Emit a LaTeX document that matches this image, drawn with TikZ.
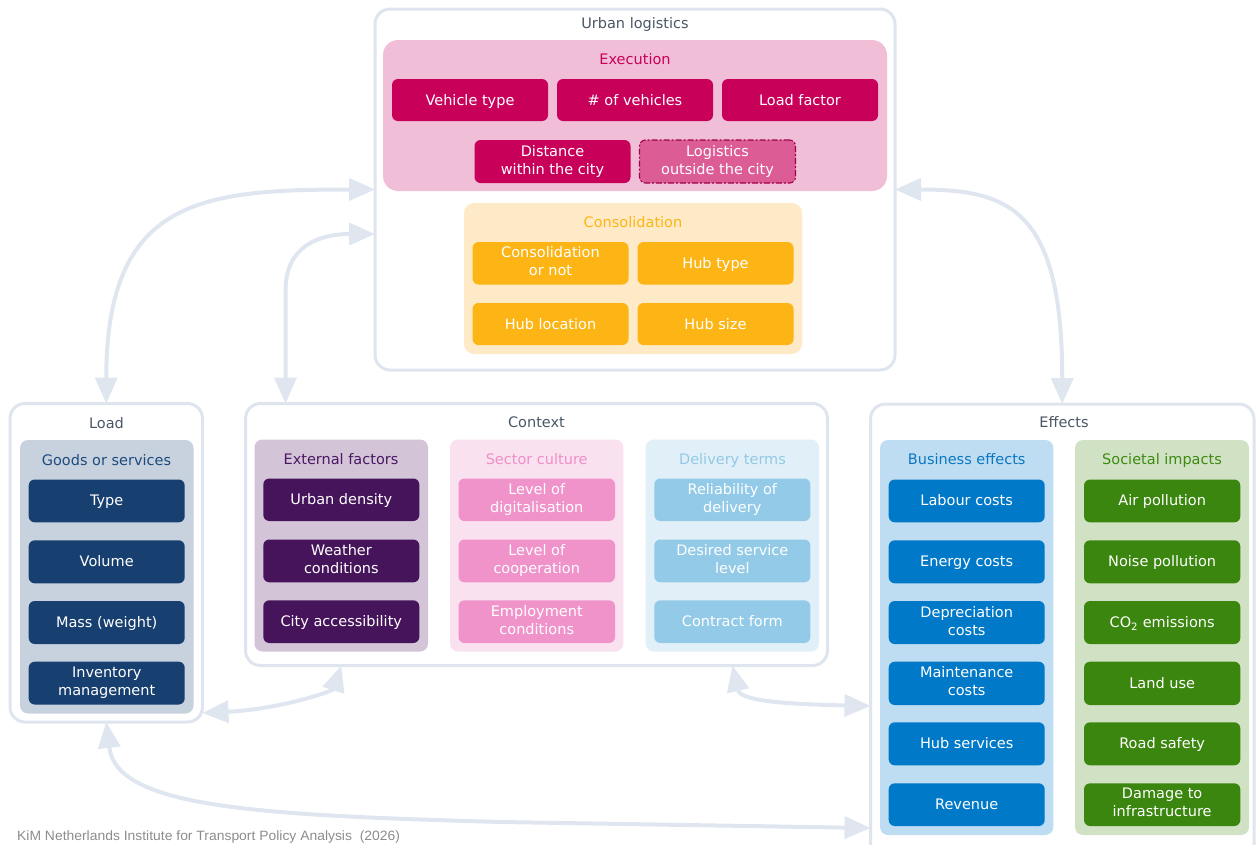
\documentclass[tikz,border=0pt]{standalone}
\usepackage{fontspec}
\setmainfont{DejaVu Sans}
\newfontfamily\footfont[FakeStretch=1.03]{Liberation Sans}
\usetikzlibrary{arrows.meta,calc}
\definecolor{bordc}{HTML}{DFE5EE}
\definecolor{arrc}{HTML}{DFE6EF}
\definecolor{ttlc}{HTML}{4B5766}
\definecolor{exbg}{HTML}{F0BED6}
\definecolor{exc}{HTML}{C8005A}
\definecolor{exd}{HTML}{DC5C96}
\definecolor{exdb}{HTML}{A0004A}
\definecolor{cobg}{HTML}{FFEAC8}
\definecolor{coc}{HTML}{FDB515}
\definecolor{ldbg}{HTML}{C8D2DF}
\definecolor{ldt}{HTML}{1D4A7C}
\definecolor{ldc}{HTML}{173F70}
\definecolor{efbg}{HTML}{D3C4D8}
\definecolor{eft}{HTML}{4A1862}
\definecolor{efc}{HTML}{46145A}
\definecolor{scbg}{HTML}{FAE1EF}
\definecolor{sct}{HTML}{F08FC8}
\definecolor{scc}{HTML}{F093CB}
\definecolor{dtbg}{HTML}{E1F0F8}
\definecolor{dtt}{HTML}{92C9E6}
\definecolor{dtc}{HTML}{93CAE7}
\definecolor{bebg}{HTML}{BFDDF2}
\definecolor{bet}{HTML}{0C77C1}
\definecolor{bec}{HTML}{0079C8}
\definecolor{sibg}{HTML}{D1E2C4}
\definecolor{sit}{HTML}{3D8A12}
\definecolor{sic}{HTML}{3B860F}
\definecolor{footc}{HTML}{8C8C8C}
\newcommand{\vs}{\rule[-4pt]{0pt}{18pt}}
\newcommand{\rbox}[7]{\node[#1, minimum width={(#5)-(#3)}, minimum height={(#6)-(#4)}] (#2) at ({((#3)+(#5))/2},{((#4)+(#6))/2}) {#7};}
\tikzset{tipA/.tip={Triangle[length=26pt,width=22pt]}}
\begin{document}
\begin{tikzpicture}[x=1pt,y=-1pt,
 base/.style={inner sep=0pt, outer sep=0pt, align=center, font=\fontsize{14.5}{18}\selectfont, execute at begin node=\vs, execute at end node=\vs},
 outerbox/.style={base, draw=bordc, line width=3pt, rounded corners=15pt, fill=white},
 grp/.style={base, rounded corners=10pt},
 btn/.style={base, rounded corners=6pt, text=white},
 ttl/.style={base},
 link/.style={draw=arrc, line width=4pt, tipA-tipA}]
\useasboundingbox (0,0) rectangle (1256,844);
\clip (0,0) rectangle (1256,844);
% ---------------- Urban logistics
\rbox{outerbox}{urban}{375}{9}{895}{370}{}
\node[ttl,text=ttlc] (urbant) at (635,23) {Urban logistics};
\rbox{grp,fill=exbg,rounded corners=15pt}{exec}{383}{40}{887}{191}{}
\node[ttl,text=exc] (exect) at (635,59) {Execution};
\rbox{btn,fill=exc}{vt}{392}{79}{548}{121}{Vehicle type}
\rbox{btn,fill=exc}{nv}{557}{79}{713}{121}{\# of vehicles}
\rbox{btn,fill=exc}{lf}{722}{79}{878}{121}{Load factor}
\rbox{btn,fill=exc}{dist}{474.5}{140}{630.5}{183}{Distance\\within the city}
\rbox{btn,fill=exd,draw=exdb,line width=1.1pt,dash pattern=on 6pt off 2pt on 2pt off 2pt}{outl}{639.5}{140}{795.5}{183}{Logistics\\outside the city}
\rbox{grp,fill=cobg}{cons}{464}{203}{802}{354}{}
\node[ttl,text=coc] (const) at (633,222) {Consolidation};
\rbox{btn,fill=coc}{cn}{472.5}{242}{628.5}{284.5}{Consolidation\\or not}
\rbox{btn,fill=coc}{ht}{637.5}{242}{793.5}{284.5}{Hub type}
\rbox{btn,fill=coc}{hl}{472.5}{303}{628.5}{345}{Hub location}
\rbox{btn,fill=coc}{hs}{637.5}{303}{793.5}{345}{Hub size}
% ---------------- Load
\rbox{outerbox}{load}{10}{403.5}{202.5}{722}{}
\node[ttl,text=ttlc] (loadt) at (106.5,423) {Load};
\rbox{grp,fill=ldbg,rounded corners=8pt}{goods}{20}{440}{193.5}{713.5}{}
\node[ttl,text=ldt] (goodst) at (106.5,460) {Goods or services};
\rbox{btn,fill=ldc}{ty}{28.7}{479.5}{184.7}{522.3}{Type}
\rbox{btn,fill=ldc}{vo}{28.7}{540.3}{184.7}{583.3}{Volume}
\rbox{btn,fill=ldc}{ma}{28.7}{601}{184.7}{644}{Mass (weight)}
\rbox{btn,fill=ldc}{inv}{28.7}{661.7}{184.7}{704.5}{Inventory\\management}
% ---------------- Context
\rbox{outerbox}{ctx}{245.5}{403.5}{827.5}{665.5}{}
\node[ttl,text=ttlc] (ctxt) at (536.5,422.5) {Context};
\rbox{grp,fill=efbg,rounded corners=8pt}{ext}{254.5}{439.5}{428}{651.5}{}
\node[ttl,text=eft] (extt) at (341,459) {External factors};
\rbox{btn,fill=efc}{ud}{263.3}{478.5}{419.3}{521}{Urban density}
\rbox{btn,fill=efc}{wc}{263.3}{539.5}{419.3}{582.3}{Weather\\conditions}
\rbox{btn,fill=efc}{ca}{263.3}{600.3}{419.3}{643}{City accessibility}
\rbox{grp,fill=scbg,rounded corners=8pt}{sec}{450}{439.5}{623.3}{651.5}{}
\node[ttl,text=sct] (sect) at (536.7,459) {Sector culture};
\rbox{btn,fill=scc}{ld}{458.5}{478.5}{615}{521}{Level of\\digitalisation}
\rbox{btn,fill=scc}{lc}{458.5}{539.5}{615}{582.3}{Level of\\cooperation}
\rbox{btn,fill=scc}{ec}{458.5}{600.3}{615}{643}{Employment\\conditions}
\rbox{grp,fill=dtbg,rounded corners=8pt}{del}{645.7}{439.5}{819}{651.5}{}
\node[ttl,text=dtt] (delt) at (732.5,459) {Delivery terms};
\rbox{btn,fill=dtc}{rd}{654.3}{478.5}{810.3}{521}{Reliability of\\delivery}
\rbox{btn,fill=dtc}{ds}{654.3}{539.5}{810.3}{582.3}{Desired service\\level}
\rbox{btn,fill=dtc}{cf}{654.3}{600.3}{810.3}{643}{Contract form}
% ---------------- Effects
\rbox{outerbox}{eff}{870.5}{404}{1254}{860}{}
\node[ttl,text=ttlc] (efft) at (1064,422.5) {Effects};
\rbox{grp,fill=bebg,rounded corners=8pt}{bus}{880}{440}{1053.3}{835}{}
\node[ttl,text=bet] (bust) at (966.7,459) {Business effects};
\rbox{btn,fill=bec}{lab}{888.7}{479.5}{1044.7}{522.3}{Labour costs}
\rbox{btn,fill=bec}{en}{888.7}{540.3}{1044.7}{583.3}{Energy costs}
\rbox{btn,fill=bec}{dep}{888.7}{601}{1044.7}{644}{Depreciation\\costs}
\rbox{btn,fill=bec}{mai}{888.7}{661.7}{1044.7}{705}{Maintenance\\costs}
\rbox{btn,fill=bec}{hsv}{888.7}{722.3}{1044.7}{765.3}{Hub services}
\rbox{btn,fill=bec}{rev}{888.7}{783.3}{1044.7}{826}{Revenue}
\rbox{grp,fill=sibg,rounded corners=8pt}{soc}{1075}{440}{1249}{835}{}
\node[ttl,text=sit] (soct) at (1162,459) {Societal impacts};
\rbox{btn,fill=sic}{ap}{1084}{479.5}{1240.3}{522.3}{Air pollution}
\rbox{btn,fill=sic}{np}{1084}{540.3}{1240.3}{583.3}{Noise pollution}
\rbox{btn,fill=sic}{co}{1084}{601}{1240.3}{644}{CO\textsubscript{2} emissions}
\rbox{btn,fill=sic}{lu}{1084}{661.7}{1240.3}{705}{Land use}
\rbox{btn,fill=sic}{rs}{1084}{722.3}{1240.3}{765.3}{Road safety}
\rbox{btn,fill=sic}{dmg}{1084}{783.3}{1240.3}{826}{Damage to\\infrastructure}
% ---------------- footer
\node[anchor=base west, inner sep=0pt, text=footc, font=\footfont\fontsize{13.5}{15}\selectfont] (foot) at (17,840) {KiM Netherlands Institute for Transport Policy Analysis\ \ (2026)};
% ---------------- connectors
\draw[link] (load.north) .. controls ($(load.north)+(0,-204)$) and ($(urban.west)+(-175,0)$) .. (urban.west);
\draw[link] ($(ctx.north west)+(40,0)$) -- ($(ctx.north west)+(40,-113)$) .. controls ($(ctx.north west)+(40,-158)$) and ($(urban.west)+(-55,44.5)$) .. ($(urban.west)+(0,44.5)$);
\draw[link] (urban.east) .. controls ($(urban.east)+(115,0)$) and ($(eff.north)+(0,-194)$) .. (eff.north);
\draw[link] ($(load.south east)+(0,-9)$) .. controls ($(load.south east)+(80,-13)$) and ($(ctx.south -| ext.south)+(-8,25)$) .. (ctx.south -| ext.south);
\draw[link] (ctx.south -| del.south) .. controls ($(ctx.south -| del.south)+(8,35)$) and ($(eff.north west)+(-90,300)$) .. ($(eff.north west)+(0,302)$);
\draw[link] (load.south) .. controls ($(load.south)+(10,85)$) and ($(load.south)+(145,93)$) .. ($(load.south)+(395,100)$) -- ($(eff.north west)+(0,424)$);
\end{tikzpicture}
\end{document}
